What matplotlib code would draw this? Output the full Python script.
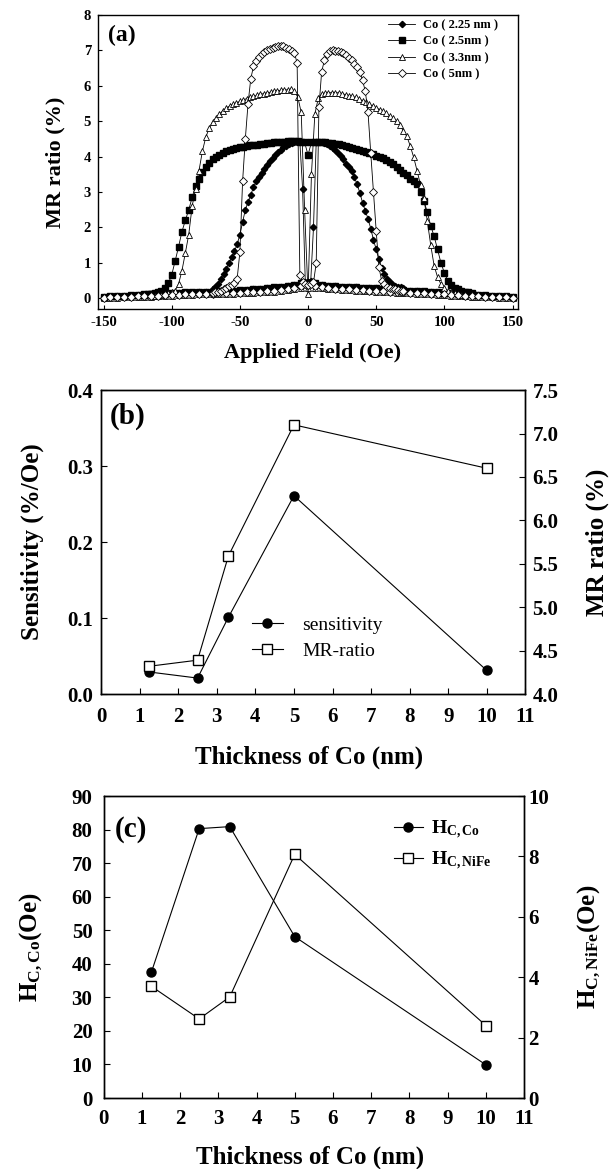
import matplotlib
matplotlib.use("Agg")
import matplotlib.pyplot as plt
import numpy as np

plt.rcParams['font.family'] = ['Liberation Serif', 'DejaVu Serif']
plt.rcParams['font.weight'] = 'bold'
plt.rcParams['axes.labelweight'] = 'bold'
plt.rcParams['axes.unicode_minus'] = False
plt.rcParams['mathtext.fontset'] = 'custom'
plt.rcParams['mathtext.rm'] = 'Liberation Serif:bold'
plt.rcParams['mathtext.bf'] = 'Liberation Serif:bold'
plt.rcParams['mathtext.it'] = 'Liberation Serif:bold'

# ---- panel (a): MR loops ----
labels_a = ['Co ( 2.25 nm )', 'Co ( 2.5nm )', 'Co ( 3.3nm )', 'Co ( 5nm )']

# upper branch, field grids (Oe)
h_225 = np.arange(-70, 71, 2)
h_25 = np.arange(-120, 120.1, 2.5)
h_33 = np.arange(-115, 115.1, 2.5)
h_5 = np.arange(-70, 71, 2)
# lower branch, field grid (Oe)
h_low = np.arange(-150, 151, 5)

mr_225 = [0.25, 0.31, 0.4, 0.56, 0.7, 0.84, 1.0, 1.16, 1.33, 1.52, 1.8, 2.15, 2.5, 2.72,
          2.92, 3.14, 3.3, 3.42, 3.55, 3.66, 3.77, 3.87, 3.96, 4.05, 4.13, 4.2, 4.26, 4.31,
          4.35, 4.38, 4.4, 4.41, 4.42, 3.1, 0.45, 0.45, 0.5, 2.0, 4.42, 4.42, 4.4, 4.38,
          4.35, 4.3, 4.24, 4.18, 4.1, 4.02, 3.92, 3.8, 3.7, 3.6, 3.42, 3.22, 2.98, 2.7,
          2.47, 2.25, 1.97, 1.65, 1.38, 1.1, 0.87, 0.7, 0.56, 0.46, 0.38, 0.35, 0.33, 0.31, 0.3]
mr_25 = [0.1, 0.11, 0.13, 0.15, 0.18, 0.22, 0.28, 0.42, 0.66, 1.05, 1.45, 1.88, 2.2, 2.5,
         2.85, 3.17, 3.38, 3.58, 3.72, 3.83, 3.93, 4.0, 4.06, 4.11, 4.15, 4.18, 4.21, 4.24,
         4.26, 4.28, 4.3, 4.32, 4.33, 4.34, 4.35, 4.37, 4.38, 4.39, 4.4, 4.41, 4.42, 4.42,
         4.43, 4.43, 4.44, 4.43, 4.42, 4.4, 4.05, 4.4, 4.42, 4.42, 4.41, 4.4, 4.39, 4.38,
         4.37, 4.35, 4.33, 4.3, 4.27, 4.25, 4.22, 4.19, 4.16, 4.13, 4.1, 4.07, 4.03, 3.99,
         3.95, 3.9, 3.84, 3.78, 3.7, 3.62, 3.55, 3.48, 3.38, 3.3, 3.22, 3.0, 2.75, 2.43,
         2.05, 1.75, 1.38, 1.0, 0.72, 0.5, 0.38, 0.3, 0.25, 0.22, 0.19, 0.17, 0.15]
mr_33 = [0.05, 0.06, 0.08, 0.1, 0.12, 0.15, 0.18, 0.22, 0.4, 0.78, 1.28, 1.8, 2.6, 3.1,
         3.6, 4.15, 4.55, 4.8, 4.98, 5.1, 5.2, 5.3, 5.37, 5.43, 5.48, 5.52, 5.56, 5.6,
         5.64, 5.67, 5.7, 5.73, 5.76, 5.78, 5.8, 5.82, 5.84, 5.86, 5.87, 5.88, 5.89, 5.9,
         5.84, 5.68, 5.25, 2.5, 0.12, 3.5, 5.2, 5.65, 5.77, 5.79, 5.8, 5.81, 5.81, 5.8,
         5.78, 5.75, 5.72, 5.7, 5.67, 5.63, 5.58, 5.53, 5.48, 5.43, 5.38, 5.33, 5.28, 5.22,
         5.15, 5.08, 5.0, 4.88, 4.72, 4.57, 4.3, 3.98, 3.6, 3.2, 2.82, 2.18, 1.5, 0.92,
         0.6, 0.4, 0.28, 0.22, 0.18, 0.14, 0.11, 0.09, 0.07]
mr_5 = [0.15, 0.17, 0.19, 0.22, 0.26, 0.3, 0.34, 0.38, 0.43, 0.55, 1.3, 3.3, 4.5, 5.5,
        6.2, 6.55, 6.7, 6.82, 6.9, 6.96, 7.0, 7.04, 7.07, 7.1, 7.11, 7.12, 7.12, 7.08,
        7.05, 6.98, 6.92, 6.65, 0.66, 0.45, 0.4, 0.38, 0.4, 0.45, 0.99, 5.4, 6.4, 6.72,
        6.9, 6.98, 7.0, 6.99, 6.97, 6.95, 6.92, 6.86, 6.78, 6.72, 6.62, 6.53, 6.4, 6.15,
        5.85, 5.25, 4.1, 3.0, 1.9, 0.88, 0.5, 0.4, 0.33, 0.3, 0.27, 0.25, 0.23, 0.21, 0.2]

low_225 = [0.04, 0.05, 0.06, 0.07, 0.08, 0.09, 0.1, 0.11, 0.12, 0.13, 0.14, 0.15, 0.16,
           0.16, 0.17, 0.17, 0.18, 0.19, 0.2, 0.21, 0.22, 0.23, 0.25, 0.26, 0.28, 0.3,
           0.32, 0.35, 0.39, 0.43, 0.47, 0.43, 0.39, 0.36, 0.34, 0.33, 0.32, 0.31, 0.3,
           0.29, 0.28, 0.27, 0.25, 0.24, 0.22, 0.21, 0.2, 0.19, 0.17, 0.16, 0.15, 0.14,
           0.12, 0.11, 0.1, 0.09, 0.08, 0.07, 0.06, 0.05, 0.04]
low_25 = [0.05, 0.06, 0.07, 0.08, 0.09, 0.1, 0.11, 0.12, 0.13, 0.14, 0.15, 0.16, 0.17,
          0.17, 0.18, 0.18, 0.19, 0.2, 0.21, 0.22, 0.23, 0.24, 0.25, 0.27, 0.29, 0.31,
          0.33, 0.35, 0.38, 0.42, 0.44, 0.42, 0.38, 0.36, 0.35, 0.33, 0.32, 0.31, 0.3,
          0.29, 0.28, 0.27, 0.26, 0.25, 0.24, 0.22, 0.21, 0.2, 0.18, 0.17, 0.16, 0.15,
          0.14, 0.12, 0.11, 0.1, 0.09, 0.08, 0.07, 0.06, 0.05]
low_33 = [0.0, 0.01, 0.02, 0.03, 0.04, 0.05, 0.05, 0.06, 0.07, 0.08, 0.08, 0.09, 0.1,
          0.1, 0.11, 0.11, 0.12, 0.12, 0.13, 0.13, 0.14, 0.15, 0.16, 0.17, 0.18, 0.19,
          0.21, 0.23, 0.25, 0.28, 0.3, 0.3, 0.28, 0.26, 0.25, 0.24, 0.23, 0.22, 0.21,
          0.2, 0.19, 0.18, 0.17, 0.16, 0.15, 0.14, 0.13, 0.12, 0.11, 0.1, 0.09, 0.08,
          0.07, 0.06, 0.05, 0.04, 0.04, 0.03, 0.02, 0.01, 0.0]
low_5 = [0.02, 0.03, 0.03, 0.04, 0.05, 0.06, 0.07, 0.07, 0.08, 0.09, 0.1, 0.1, 0.11,
         0.12, 0.12, 0.13, 0.13, 0.14, 0.14, 0.15, 0.16, 0.17, 0.18, 0.19, 0.2, 0.22,
         0.24, 0.26, 0.29, 0.34, 0.38, 0.36, 0.31, 0.28, 0.27, 0.26, 0.25, 0.24, 0.23,
         0.22, 0.21, 0.2, 0.19, 0.18, 0.17, 0.16, 0.15, 0.14, 0.13, 0.12, 0.11, 0.1,
         0.09, 0.08, 0.07, 0.06, 0.05, 0.05, 0.04, 0.03, 0.02]

# ---- panel (b) ----
thick = [1.25, 2.5, 3.3, 5, 10]
sensitivity = [0.029, 0.021, 0.101, 0.261, 0.031]
mr_ratio = [4.32, 4.39, 5.59, 7.1, 6.6]

# ---- panel (c) ----
hc_co = [37.5, 80.3, 80.9, 48.1, 9.9]
hc_nife = [3.7, 2.62, 3.35, 8.07, 2.4]

fig = plt.figure(figsize=(6.13, 11.69), dpi=100)
ax_a = fig.add_axes([0.160, 0.7357, 0.685, 0.2515])
ax_b = fig.add_axes([0.165, 0.4063, 0.692, 0.260])
ax_c = fig.add_axes([0.169, 0.0607, 0.686, 0.2583])

styles = [
    dict(marker='D', ms=3.2, mfc='black', mec='black'),
    dict(marker='s', ms=4.0, mfc='black', mec='black'),
    dict(marker='^', ms=4.0, mfc='white', mec='black', mew=0.6),
    dict(marker='D', ms=4.0, mfc='white', mec='black', mew=0.6),
]
highs = [(h_225, mr_225), (h_25, mr_25), (h_33, mr_33), (h_5, mr_5)]
lows = [low_225, low_25, low_33, low_5]
for (hh, mm), low, st, lab in zip(highs, lows, styles, labels_a):
    ax_a.plot(h_low, low, color='black', lw=0.6, **st)
    ax_a.plot(hh, mm, color='black', lw=0.6, label=lab, **st)

ax_a.set_xlim(-154, 154)
ax_a.set_ylim(-0.3, 8)
ax_a.set_xticks([-150, -100, -50, 0, 50, 100, 150])
ax_a.set_yticks(range(0, 9))
ax_a.tick_params(direction='in', length=3, labelsize=10.5, pad=5)
ax_a.set_xlabel('Applied Field (Oe)', fontsize=16, va='center')
ax_a.xaxis.set_label_coords(0.51, -0.15)
ax_a.set_ylabel('MR ratio (%)', fontsize=16, va='center')
ax_a.yaxis.set_label_coords(-0.102, 0.5)
ax_a.text(0.024, 0.965, '(a)', transform=ax_a.transAxes, fontsize=17, va='top', ha='left')
ax_a.legend(loc='upper left', bbox_to_anchor=(0.69, 0.985), frameon=False, fontsize=9,
            numpoints=1, handlelength=2.2, handletextpad=0.6, labelspacing=0.35,
            borderpad=0, borderaxespad=0)

# panel (b)
ax_b.plot(thick, sensitivity, color='black', lw=0.8, marker='o', ms=6.5, mfc='black',
          label='sensitivity')
ax_b2 = ax_b.twinx()
ax_b2.plot(thick, mr_ratio, color='black', lw=0.8, marker='s', ms=7, mfc='white',
           mec='black', label='MR-ratio')
ax_b.set_xlim(0, 11)
ax_b.set_ylim(0, 0.4)
ax_b2.set_ylim(4.0, 7.5)
ax_b.set_xticks(range(0, 12))
ax_b.set_yticks([0.0, 0.1, 0.2, 0.3, 0.4])
ax_b.set_yticklabels(['0.0', '0.1', '0.2', '0.3', '0.4'])
ax_b2.set_yticks([4.0, 4.5, 5.0, 5.5, 6.0, 6.5, 7.0, 7.5])
ax_b2.set_yticklabels(['4.0', '4.5', '5.0', '5.5', '6.0', '6.5', '7.0', '7.5'])
ax_b.tick_params(axis='x', direction='in', length=4, labelsize=15, pad=9)
ax_b.tick_params(axis='y', direction='in', length=4, labelsize=15, pad=6)
ax_b2.tick_params(axis='y', direction='in', length=4, labelsize=15, pad=5)
ax_b.set_xlabel('Thickness of Co (nm)', fontsize=18, va='center')
ax_b.xaxis.set_label_coords(0.49, -0.207)
ax_b.set_ylabel('Sensitivity (%/Oe)', fontsize=18, va='center')
ax_b.yaxis.set_label_coords(-0.163, 0.5)
ax_b2.set_ylabel('MR ratio (%)', fontsize=18, va='center', rotation=90)
ax_b2.yaxis.set_label_coords(1.170, 0.5)
ax_b.text(0.02, 0.96, '(b)', transform=ax_b.transAxes, fontsize=21, va='top', ha='left')
h1, l1 = ax_b.get_legend_handles_labels()
h2, l2 = ax_b2.get_legend_handles_labels()
ax_b.legend(h1 + h2, l1 + l2, loc='upper left', bbox_to_anchor=(0.355, 0.255),
            frameon=False, prop={'size': 14, 'weight': 'normal'}, numpoints=1,
            handlelength=1.6, handletextpad=1.0, labelspacing=0.4,
            borderpad=0, borderaxespad=0)

# panel (c)
ax_c.plot(thick, hc_co, color='black', lw=0.8, marker='o', ms=6.5, mfc='black',
          label=r'H$_{\mathregular{C,Co}}$')
ax_c2 = ax_c.twinx()
ax_c2.plot(thick, hc_nife, color='black', lw=0.8, marker='s', ms=7, mfc='white',
           mec='black', label=r'H$_{\mathregular{C,NiFe}}$')
ax_c.set_xlim(0, 11)
ax_c.set_ylim(0, 90)
ax_c2.set_ylim(0, 10)
ax_c.set_xticks(range(0, 12))
ax_c.set_yticks(range(0, 91, 10))
ax_c2.set_yticks(range(0, 11, 2))
ax_c.tick_params(axis='x', direction='in', length=4, labelsize=15, pad=8)
ax_c.tick_params(axis='y', direction='in', length=4, labelsize=15, pad=8)
ax_c2.tick_params(axis='y', direction='in', length=4, labelsize=15, pad=3)
ax_c.set_xlabel('Thickness of Co (nm)', fontsize=18, va='center')
ax_c.xaxis.set_label_coords(0.49, -0.195)
ax_c.set_ylabel(r'H$_{\mathregular{C,Co}}$(Oe)', fontsize=18, va='center')
ax_c.yaxis.set_label_coords(-0.172, 0.5)
ax_c2.set_ylabel(r'H$_{\mathregular{C,NiFe}}$(Oe)', fontsize=18, va='center', rotation=90)
ax_c2.yaxis.set_label_coords(1.155, 0.5)
ax_c.text(0.027, 0.935, '(c)', transform=ax_c.transAxes, fontsize=21, va='top', ha='left')
h1, l1 = ax_c.get_legend_handles_labels()
h2, l2 = ax_c2.get_legend_handles_labels()
ax_c.legend(h1 + h2, l1 + l2, loc='upper left', bbox_to_anchor=(0.69, 0.925),
            frameon=False, fontsize=14, numpoints=1, handlelength=1.5,
            handletextpad=0.4, labelspacing=0.4, borderpad=0, borderaxespad=0)

for ax in (ax_a, ax_b, ax_b2, ax_c, ax_c2):
    for sp in ax.spines.values():
        sp.set_linewidth(1.0)

fig.savefig('out.png', dpi=100)
